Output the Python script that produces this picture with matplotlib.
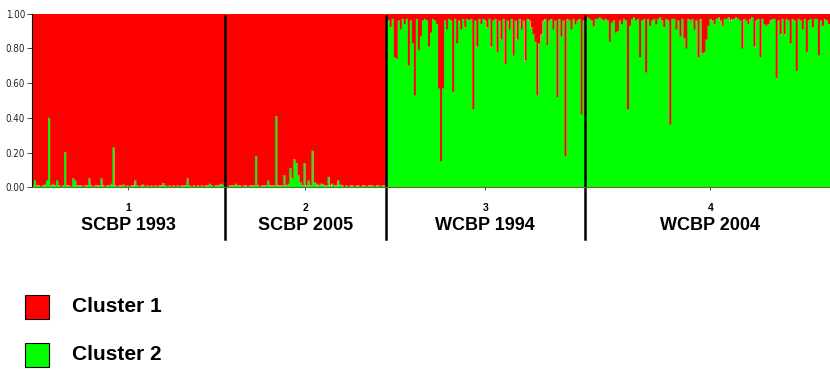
import numpy as np
import matplotlib
matplotlib.use("Agg")
import matplotlib.pyplot as plt
from matplotlib.patches import Rectangle
import matplotlib.transforms as mtransforms
from matplotlib import font_manager as fm

# ---- data: membership (%) of the minor cluster for each individual ----
pop_numbers = ["1", "2", "3", "4"]
pop_names = ["SCBP 1993", "SCBP 2005", "WCBP 1994", "WCBP 2004"]
cluster_names = ["Cluster 1", "Cluster 2"]
cluster_colors = ["#ff0000", "#00ff00"]
y_ticks = [0.0, 0.2, 0.4, 0.6, 0.8, 1.0]
y_ticklabels = ["0.00", "0.20", "0.40", "0.60", "0.80", "1.00"]

# cluster-2 (green) membership, %
scbp1993_c2 = [1, 4, 1, 1, 0.5, 1, 1.5, 4, 40, 1, 2, 1,
               4, 1, 0.5, 1, 20, 1, 1, 0.5, 5, 4, 1, 1,
               1, 0.5, 1, 1, 5, 1, 0.5, 1, 1, 1, 5, 1,
               0.5, 1, 1, 2, 23, 1, 0.5, 1, 1, 1.5, 0.5, 1,
               0.5, 1, 1, 4, 1, 0.5, 1, 1.5, 0.5, 1, 0.5, 1,
               0.5, 1, 0.5, 1, 1, 2.5, 1, 0.5, 1, 0.5, 1, 0.5,
               1, 0.5, 1, 1, 1, 5, 1, 0.5, 1, 0.5, 1, 0.5,
               1, 0.5, 1, 1, 2, 1, 0.5, 1, 1, 1.5, 2, 1]
scbp2005_c2 = [1, 0.5, 1, 1, 1, 2, 1, 1, 0.5, 1,
               1, 0.5, 1, 1, 1, 18, 1, 0.5, 1, 1,
               1, 4, 1, 1, 1, 41, 1, 1, 1, 7,
               1, 2, 11, 5, 16, 14, 7, 3, 1, 14,
               1, 4, 1, 21, 3, 2, 1, 2, 2, 1,
               1, 6, 1, 2, 1, 1, 4, 1.5, 1, 0.5,
               1, 0.5, 1, 1, 0.5, 1, 1, 0.5, 1, 1,
               0.5, 1, 1, 1, 0.5, 1, 1, 0.5, 1, 1]
# cluster-1 (red) membership, %
wcbp1994_c1 = [3, 4, 8, 3, 25, 26, 4, 9, 3, 6,
               3, 30, 4, 17, 47, 3, 21, 13, 4, 3,
               4, 19, 11, 3, 4, 6, 43, 85, 43, 4,
               9, 3, 4, 45, 3, 17, 4, 9, 3, 8,
               3, 4, 3, 55, 4, 19, 3, 6, 3, 4,
               8, 3, 19, 4, 3, 22, 4, 15, 3, 29,
               4, 9, 3, 24, 4, 15, 3, 9, 4, 27,
               3, 4, 8, 12, 16, 47, 17, 12, 4, 3,
               18, 4, 3, 9, 4, 48, 3, 13, 4, 82,
               3, 4, 9, 3, 6, 4, 3, 58, 4]
wcbp2004_c1 = [3, 2, 3, 4, 7.5, 3, 3, 2, 3, 4,
               3, 4, 16, 5, 4, 11, 10, 4, 6, 3,
               4, 55, 7, 3, 2, 4, 3, 25, 4, 3,
               34, 3, 7, 4, 3, 6, 3, 2, 4, 8,
               3, 4, 64, 3, 3, 9, 4, 13, 3, 14,
               20, 3, 4, 3, 9, 4, 25, 3, 23, 22,
               15, 7, 3, 4, 6, 3, 2, 4, 7, 3,
               3, 2, 4, 3, 3, 2, 3, 4, 20, 3,
               4, 6, 3, 2, 19, 4, 3, 25, 3, 6,
               7, 6, 4, 3, 3, 37, 4, 12, 3, 12,
               3, 4, 17, 3, 4, 33, 3, 4, 9, 3,
               22, 4, 3, 8, 3, 3, 24, 4, 7, 3,
               4, 6, 3, 2, 3]

# ---- pick a narrow font for the y tick labels ----
def narrow_font(size):
    try:
        fp = fm.FontProperties(family="Liberation Sans Narrow", size=size)
        path = fm.findfont(fp, fallback_to_default=False)
        if "Narrow" in path:
            return fp, 1.0
    except Exception:
        pass
    fp = fm.FontProperties(family="DejaVu Sans", stretch="condensed", size=size)
    path = fm.findfont(fp)
    if "Condensed" in path:
        return fp, 1.0
    return fm.FontProperties(family="Liberation Sans", size=size - 0.8), 0.0

ytick_fp, _ = narrow_font(7)

# ---- assemble q-matrix ----
q2_parts = [np.array(scbp1993_c2) / 100.0,
            np.array(scbp2005_c2) / 100.0,
            1 - np.array(wcbp1994_c1) / 100.0,
            1 - np.array(wcbp2004_c1) / 100.0]
sizes = [len(p) for p in q2_parts]
q2 = np.concatenate(q2_parts)
N = len(q2)
edges = np.arange(N + 1)
bounds = np.cumsum([0] + sizes)
centers = [(bounds[i] + bounds[i + 1]) / 2 for i in range(len(sizes))]

fig = plt.figure(figsize=(8.3, 3.7), dpi=100)
ax = fig.add_axes([32 / 830, 1 - 187.3 / 370, 1 - 32 / 830, 173.6 / 370])

ax.stairs(q2, edges, baseline=0, fill=True, color=cluster_colors[1], lw=0)
ax.stairs(np.ones(N), edges, baseline=q2, fill=True, color=cluster_colors[0], lw=0)

ax.set_xlim(0, 397)
ax.set_ylim(0, 1)

for s in ["top", "right"]:
    ax.spines[s].set_visible(False)
ax.spines["left"].set_color("black")
ax.spines["left"].set_linewidth(0.8)
ax.spines["bottom"].set_color("#6b6b3a")
ax.spines["bottom"].set_linewidth(0.8)

ax.set_yticks(y_ticks)
ax.set_yticklabels(y_ticklabels)
for lab in ax.get_yticklabels():
    lab.set_fontproperties(ytick_fp)
    lab.set_color("#333333")
ax.tick_params(axis="y", length=3.5, width=0.6, pad=1.5, colors="#222222")

ax.set_xticks(centers)
ax.set_xticklabels(pop_numbers, fontdict=dict(family="Liberation Sans",
                                              weight="bold", size=7.5))
ax.tick_params(axis="x", length=2.5, width=0.6, pad=9, colors="#333333")
for lab in ax.get_xticklabels():
    lab.set_color("black")

trans = mtransforms.blended_transform_factory(ax.transData, ax.transAxes)
for c, name in zip(centers, pop_names):
    ax.text(c, -0.218, name, transform=trans, ha="center", va="center",
            family="Liberation Sans", weight="bold", fontsize=13, color="black")

for b in bounds[1:-1]:
    ax.axvline(b, ymin=-0.298, ymax=0.987, color="black", lw=1.8, clip_on=False)

# ---- legend ----
sq_w, sq_h = 24 / 830, 24 / 370
for i, (name, col) in enumerate(zip(cluster_names, cluster_colors)):
    ytop = 295 + 48 * i
    fig.patches.append(Rectangle((25 / 830, 1 - (ytop + 24) / 370), sq_w, sq_h,
                                 transform=fig.transFigure, facecolor=col,
                                 edgecolor="black", lw=0.8))
    fig.text(72 / 830, 1 - (ytop + 12) / 370, name, ha="left", va="center",
             family="Liberation Sans", weight="bold", fontsize=15, color="black")

fig.savefig("out.png", dpi=100)
